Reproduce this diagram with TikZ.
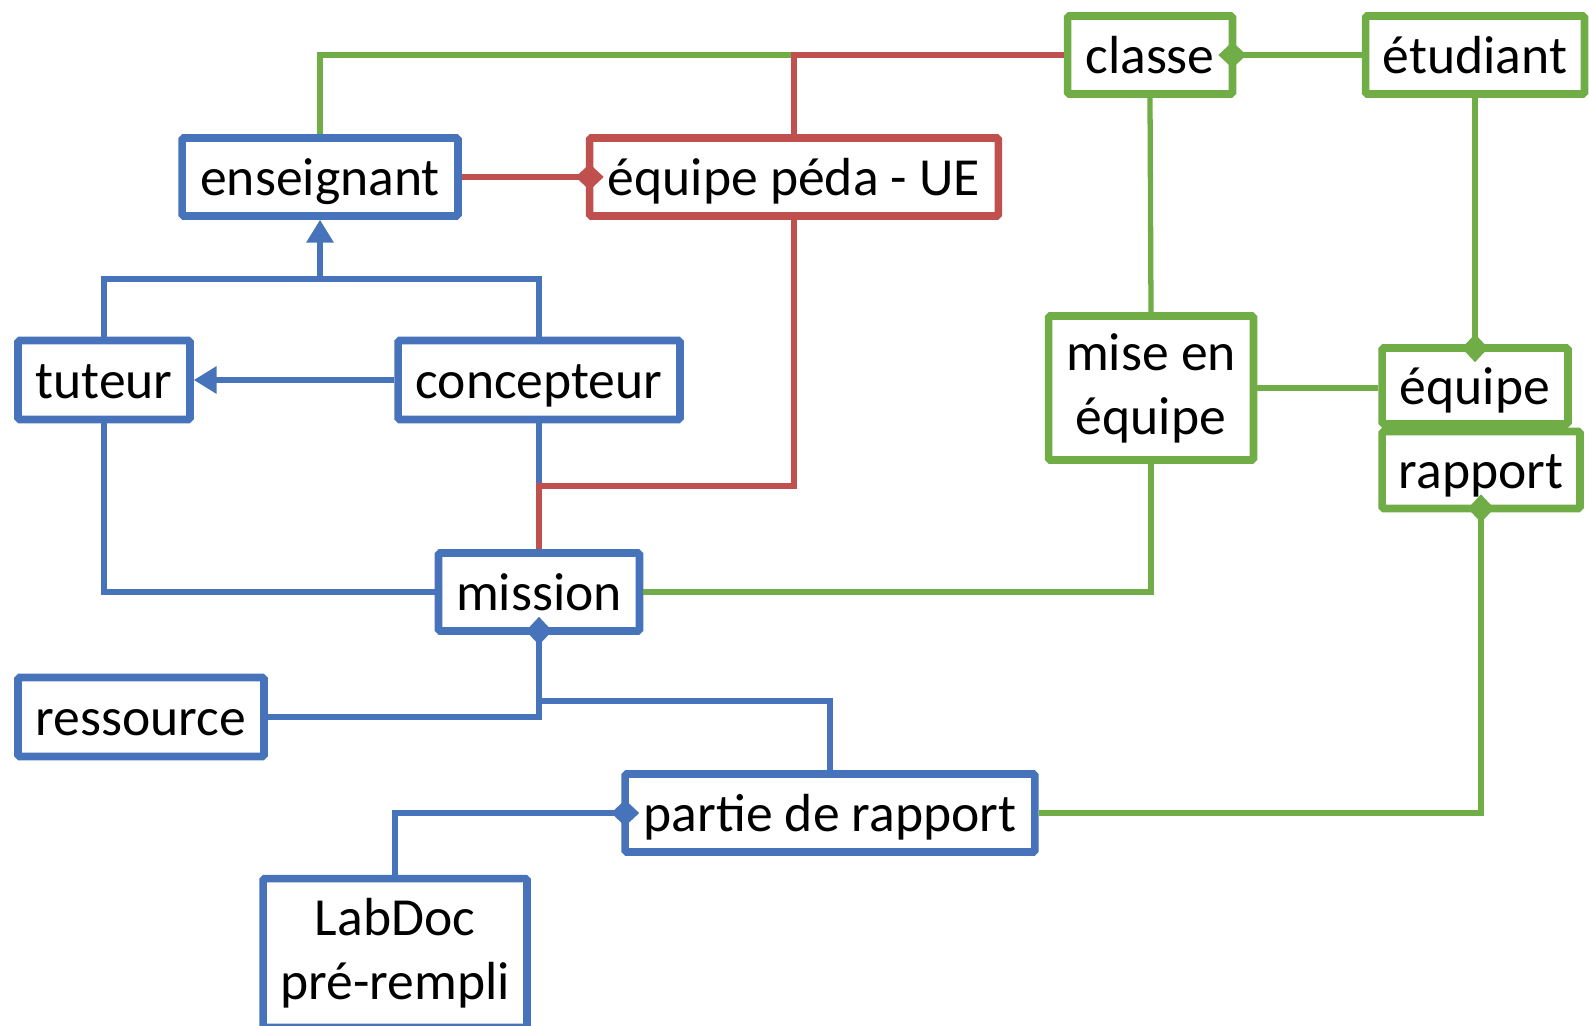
\documentclass[tikz,border=0pt]{standalone}
\usepackage{fontspec}
\setmainfont{Carlito}
\usepackage{xcolor}
\usepackage{tikz}
\usetikzlibrary{arrows.meta}

\definecolor{umlblue}{HTML}{4673B9}
\definecolor{umlred}{HTML}{C0504D}
\definecolor{umlgreen}{HTML}{70AD47}

\tikzset{
    box/.style={draw, fill=white, line width=4.3pt, rounded corners=1pt, inner sep=0pt,
        minimum height=1.56cm, font=\fontsize{30.5}{36.5}\selectfont},
    oneline/.style={text height=21pt, text depth=0pt},
    bbox/.style={box, draw=umlblue},
    rbox/.style={box, draw=umlred},
    gbox/.style={box, draw=umlgreen},
    link/.style={line width=3pt},
    blink/.style={link, draw=umlblue},
    rlink/.style={link, draw=umlred},
    glink/.style={link, draw=umlgreen},
    comp/.style={-{Diamond[length=16pt, width=15pt]}, shorten >=-10.2pt},
    inh/.style={-{Triangle[length=13pt, width=15pt]}}
}

\begin{document}
\begin{tikzpicture}[x=0.02cm, y=-0.02cm]
    \useasboundingbox (0,0) rectangle (1589,1025);
    % classes
    \node[gbox, oneline, minimum width=3.30cm] (classe) at (1150,55) {classe};
    \node[gbox, oneline, minimum width=4.38cm] (etudiant) at (1475,55) {étudiant};
    \node[bbox, oneline, minimum width=5.52cm] (enseignant) at (320,177) {enseignant};
    \node[rbox, oneline, minimum width=8.18cm] (peda) at (794,177) {équipe péda - UE};
    \node[bbox, oneline, minimum width=3.44cm, minimum height=1.58cm] (tuteur) at (104,380) {tuteur};
    \node[bbox, oneline, minimum width=5.64cm, minimum height=1.58cm] (concepteur) at (539,380) {concepteur};
    \node[gbox, align=center, minimum width=4.10cm, minimum height=2.88cm] (miseeq) at (1151,388) {mise en\\équipe};
    \node[gbox, oneline, minimum width=3.72cm, minimum height=1.52cm] (equipe) at (1475,386) {équipe};
    \node[gbox, oneline, minimum width=3.96cm, minimum height=1.54cm] (rapport) at (1481,470) {rapport};
    \node[bbox, oneline, minimum width=4.02cm] (mission) at (539,592) {mission};
    \node[bbox, oneline, minimum width=4.92cm, minimum height=1.58cm] (ressource) at (141,717) {ressource};
    \node[bbox, oneline, minimum width=8.20cm] (partie) at (830,813) {partie de rapport};
    \node[bbox, align=center, minimum width=5.28cm, minimum height=2.98cm] (labdoc) at (395,953) {LabDoc\\pré-rempli};

    \coordinate (bus) at (320,279);
    \coordinate (rbend) at (794,486);
    \coordinate (mbus) at (539,701);

    % links
    \draw[glink] (enseignant.north) |- (classe.west);
    \draw[rlink] (peda.north) |- (classe.west);
    \draw[rlink, comp] (enseignant.east) -- (peda.west);
    \draw[blink] (concepteur.south) -- (mission.north);
    \draw[rlink] (peda.south) -- (rbend) -| (mission.north);
    \draw[blink, inh] (bus) -- (enseignant.south);
    \draw[blink] (tuteur.north) |- (bus) -| (concepteur.north);
    \draw[blink, inh] (concepteur.west) -- (tuteur.east);
    \draw[blink] (tuteur.south) |- (mission.west);
    \draw[glink] (mission.east) -| (miseeq.south);
    \draw[glink] (classe.south) -- (miseeq.north);
    \draw[glink, comp] (etudiant.west) -- (classe.east);
    \draw[glink, comp] (etudiant.south) -- (equipe.north);
    \draw[glink] (miseeq.east) -- (miseeq.east -| equipe.west);
    \draw[glink, comp] (partie.east) -| (rapport.south);
    \draw[blink, comp] (ressource.east) -| (mission.south);
    \draw[blink] (mbus) -| (partie.north);
    \draw[blink, comp] (labdoc.north) |- (partie.west);
\end{tikzpicture}
\end{document}
